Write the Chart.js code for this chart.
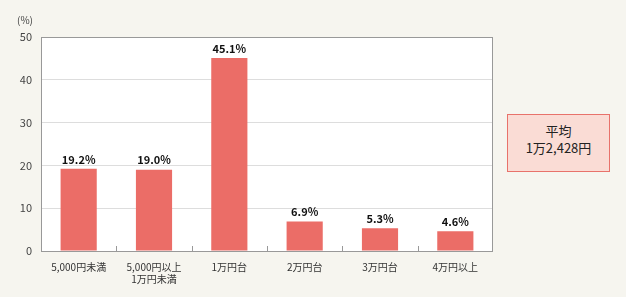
<!DOCTYPE html>
<html>
<head>
<meta charset="utf-8">
<script src="https://cdn.jsdelivr.net/npm/chart.js@4"></script>
<style>
  html, body { margin: 0; padding: 0; background: #f6f5ef; }
  #wrap { position: relative; width: 626px; height: 297px; }
  #avg {
    position: absolute; left: 507px; top: 114px; width: 101px; height: 49px;
    background: #fadcd5; border: 1px solid #e8726b;
    font-family: "Noto Sans CJK JP", sans-serif; font-size: 13px; color: #222;
    text-align: center; line-height: 17px; padding-top: 7px; box-sizing: content-box;
  }
</style>
</head>
<body>
<div id="wrap">
  <canvas id="c" width="626" height="297"></canvas>
  <div id="avg">平均<br>1万2,428円</div>
</div>
<script>
const categories = [
    '5,000円未満',
    ['5,000円以上', '1万円未満'],
    '1万円台',
    '2万円台',
    '3万円台',
    '4万円以上'
];
const values = [19.2, 19.0, 45.1, 6.9, 5.3, 4.6];
const yTicks = [0, 10, 20, 30, 40, 50];

const FONT = '"Noto Sans CJK JP", sans-serif';

// 白い描画領域と枠線、内向きの目盛り
const frame = {
    id: 'frame',
    beforeDraw(chart) {
        const { ctx, chartArea: a } = chart;
        ctx.save();
        ctx.fillStyle = '#ffffff';
        ctx.fillRect(a.left, a.top, a.right - a.left, a.bottom - a.top);
        ctx.restore();
    },
    afterDraw(chart) {
        const { ctx, chartArea: a } = chart;
        const x = chart.scales.x;
        ctx.save();
        ctx.strokeStyle = '#999999';
        ctx.lineWidth = 1;
        ctx.strokeRect(a.left + 0.5, a.top + 0.5, a.right - a.left - 1, a.bottom - a.top);
        ctx.beginPath();
        for (let i = 1; i < categories.length; i++) {
            const px = Math.round((x.getPixelForValue(i - 1) + x.getPixelForValue(i)) / 2) + 0.5;
            ctx.moveTo(px, a.bottom);
            ctx.lineTo(px, a.bottom - 5);
        }
        ctx.stroke();
        ctx.fillStyle = '#444';
        ctx.font = '10px ' + FONT;
        ctx.textAlign = 'center';
        ctx.textBaseline = 'middle';
        ctx.fillText('(%)', 25, 20);
        ctx.restore();
    }
};

// 棒の上の値ラベル
const valueLabels = {
    id: 'valueLabels',
    afterDatasetsDraw(chart) {
        const { ctx } = chart;
        const meta = chart.getDatasetMeta(0);
        ctx.save();
        ctx.fillStyle = '#111';
        ctx.font = 'bold 11px ' + FONT;
        ctx.textAlign = 'center';
        ctx.textBaseline = 'bottom';
        meta.data.forEach((bar, i) => {
            ctx.fillText(values[i].toFixed(1) + '%', bar.x, bar.y - 4);
        });
        ctx.restore();
    }
};

new Chart(document.getElementById('c'), {
    type: 'bar',
    data: {
        labels: categories,
        datasets: [{
            data: values,
            backgroundColor: '#eb6d67',
            barPercentage: 0.48,
            categoryPercentage: 1
        }]
    },
    options: {
        responsive: false,
        animation: false,
        layout: { padding: { left: 0, right: 133, top: 37, bottom: 0 } },
        plugins: {
            legend: { display: false },
            tooltip: { enabled: false }
        },
        scales: {
            x: {
                grid: { display: false, drawTicks: false },
                border: { display: false },
                ticks: {
                    color: '#333',
                    font: { family: FONT, size: 10 },
                    padding: 10,
                    maxRotation: 0,
                    autoSkip: false
                },
                afterFit(scale) { scale.height = 46; }
            },
            y: {
                min: 0,
                max: 50,
                afterBuildTicks(scale) { scale.ticks = yTicks.map(v => ({ value: v })); },
                grid: { color: '#dddddd', drawTicks: false },
                border: { display: false },
                ticks: {
                    color: '#444',
                    font: { family: FONT, size: 11 },
                    padding: 9
                },
                afterFit(scale) { scale.width = 41; }
            }
        }
    },
    plugins: [frame, valueLabels]
});
</script>
</body>
</html>
